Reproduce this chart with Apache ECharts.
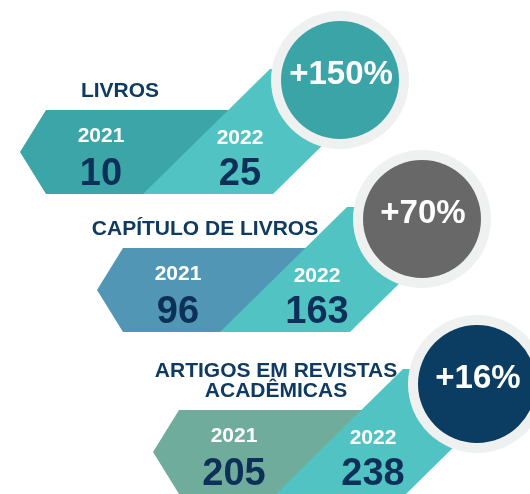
<!DOCTYPE html>
<html>
<head>
<meta charset="utf-8">
<script src="https://cdn.jsdelivr.net/npm/echarts@6/dist/echarts.min.js"></script>
<style>
  html, body { margin: 0; padding: 0; background: #fff; }
  #chart { width: 530px; height: 494px; }
</style>
</head>
<body>
<div id="chart"></div>
<script>
"use strict";

var categories = ['LIVROS', 'CAPÍTULO DE LIVROS', 'ARTIGOS EM REVISTAS\nACADÊMICAS'];
var years = ['2021', '2022'];
var values2021 = [10, 96, 205];
var values2022 = [25, 163, 238];

// layout / style per row
var rowNudge = [[20, 0], [97, -12], [153, 0]];   // tip x, vertical nudge
var circleOff = [[320, -72], [325, -71], [324, -68]];
var labelDx = [100, 108, 123];
var darkColors = ['#3BA5A7', '#5197B5', '#70AC9C'];
var circleColors = ['#3AA4A7', '#686868', '#0B3D62'];
var lightColor = '#52C3C3';
var ringColor = '#EFF1F0';
var navy = '#0F3A62';
var numNavy = '#0C3058';
var font = '"Liberation Sans", Arial, sans-serif';

function growth(i) {
    return '+' + Math.round((values2022[i] - values2021[i]) / values2021[i] * 100) + '%';
}

function renderItem(params, api) {
    var i = params.dataIndex;
    var n = rowNudge[i];
    var p = api.coord([n[0], i]);
    var x0 = p[0], y0 = p[1] + n[1];
    var h = 42;
    var cx = x0 + circleOff[i][0], cy = y0 + circleOff[i][1];
    var v21 = api.value(1), v22 = api.value(2);

    function txt(text, x, y, size, color, align, vAlign) {
        return {
            type: 'text',
            style: {
                text: text, x: x, y: y,
                fill: color,
                font: 'bold ' + size + 'px ' + font,
                align: align || 'center',
                verticalAlign: vAlign || 'middle',
                lineHeight: 20
            }
        };
    }

    return {
        type: 'group',
        children: [
            {
                type: 'polygon',
                shape: { points: [[x0, y0], [x0 + 26, y0 - h], [x0 + 215, y0 - h], [x0 + 215, y0 + h], [x0 + 26, y0 + h]] },
                style: { fill: darkColors[i] }
            },
            {
                type: 'polygon',
                shape: { points: [[x0 + 123, y0 + h], [x0 + 250, y0 - 83], [x0 + 380, y0 - 83], [x0 + 253, y0 + h]] },
                style: { fill: lightColor }
            },
            { type: 'circle', shape: { cx: cx, cy: cy, r: 69 }, style: { fill: ringColor } },
            { type: 'circle', shape: { cx: cx, cy: cy, r: 59 }, style: { fill: circleColors[i] } },
            txt(growth(i), cx + 1, cy - 5, 33, '#fff'),
            txt(categories[i], x0 + labelDx[i], y0 - 51, 21, navy, 'center', 'bottom'),
            txt(years[0], x0 + 81, y0 - 16, 21, '#fff'),
            txt(years[1], x0 + 220, y0 - 14, 21, '#fff'),
            txt(String(v21), x0 + 81, y0 + 23, 38, numNavy),
            txt(String(v22), x0 + 220, y0 + 23, 38, numNavy)
        ]
    };
}

var chart = echarts.init(document.getElementById('chart'), null, { renderer: 'canvas' });

chart.setOption({
    backgroundColor: '#fff',
    animation: false,
    grid: { left: 0, right: 0, top: 152, bottom: 42 },
    xAxis: { type: 'value', min: 0, max: 530, show: false },
    yAxis: { type: 'category', data: categories, inverse: true, boundaryGap: false, show: false },
    series: [{
        type: 'custom',
        renderItem: renderItem,
        clip: false,
        encode: { x: 1, y: 0 },
        data: categories.map(function (c, i) { return [i, values2021[i], values2022[i]]; })
    }]
});
</script>
</body>
</html>
